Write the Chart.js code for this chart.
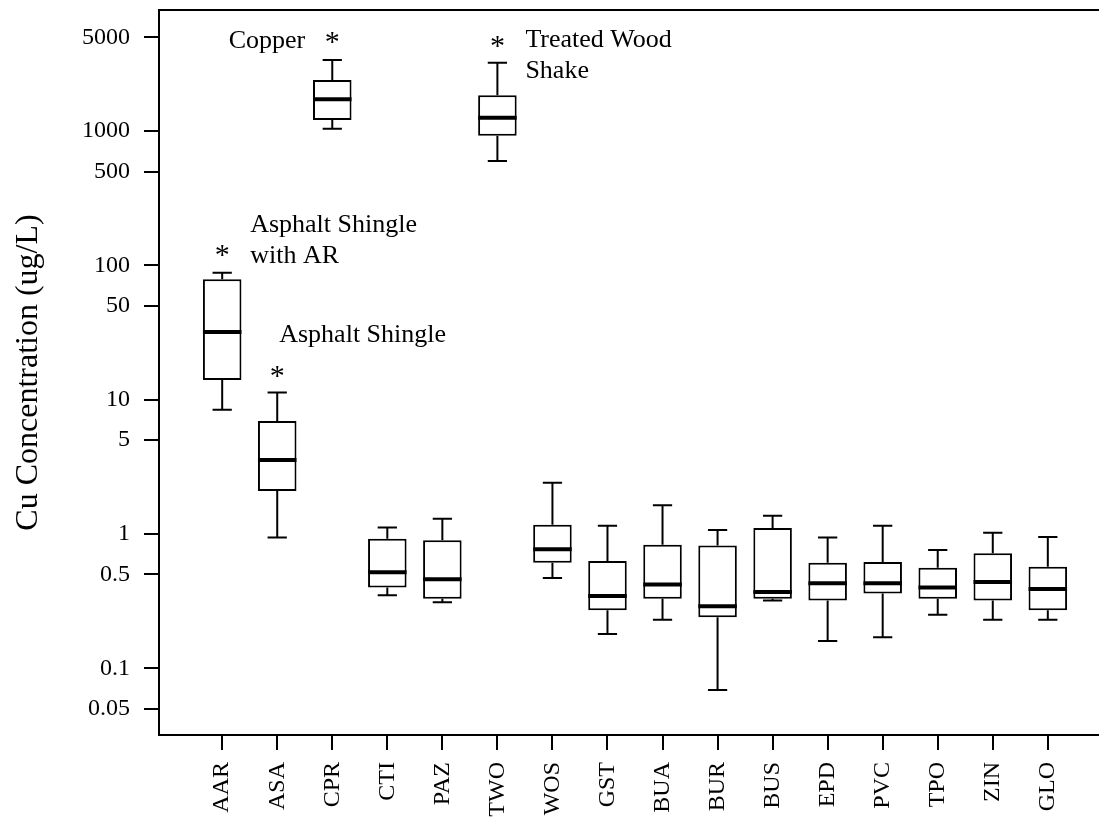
<!DOCTYPE html>
<html>
<head>
<meta charset="utf-8">
<script src="https://cdn.jsdelivr.net/npm/chart.js@4"></script>
<style>
  html, body { margin: 0; padding: 0; background: #fff; overflow: hidden; }
  canvas { display: block; }
</style>
</head>
<body>
<canvas id="cuChart" width="1121" height="819"></canvas>
<script>
// Roof material codes
const categories = ['AAR', 'ASA', 'CPR', 'CTI', 'PAZ', 'TWO', 'WOS', 'GST',
                    'BUA', 'BUR', 'BUS', 'EPD', 'PVC', 'TPO', 'ZIN', 'GLO'];

// Box plot statistics, Cu in ug/L
const whiskerLow  = [8.4, 0.94, 1040, 0.35, 0.31, 600, 0.47, 0.18, 0.23, 0.069, 0.32, 0.16, 0.17, 0.25, 0.23, 0.23];
const quartile1   = [14.0, 2.09, 1210, 0.40, 0.33, 924, 0.61, 0.27, 0.33, 0.24, 0.33, 0.32, 0.36, 0.33, 0.32, 0.27];
const medians     = [31.9, 3.56, 1725, 0.52, 0.46, 1258, 0.77, 0.345, 0.42, 0.29, 0.37, 0.43, 0.43, 0.40, 0.44, 0.39];
const quartile3   = [79, 6.94, 2400, 0.92, 0.90, 1848, 1.17, 0.63, 0.83, 0.82, 1.11, 0.61, 0.62, 0.56, 0.72, 0.57];
const whiskerHigh = [88, 11.3, 3380, 1.12, 1.30, 3230, 2.41, 1.15, 1.64, 1.07, 1.37, 0.94, 1.15, 0.76, 1.02, 0.95];

// Outliers marked with an asterisk
const outlierCats   = ['AAR', 'ASA', 'CPR', 'TWO'];
const outlierValues = [130, 16.2, 5000, 4630];

// y axis tick values
const yTicks = [0.05, 0.1, 0.5, 1, 5, 10, 50, 100, 500, 1000, 5000];

// Notes next to the outlier marks
const noteCats  = ['AAR', 'ASA', 'CPR', 'TWO'];
const noteLines = [['Asphalt Shingle', 'with AR'], ['Asphalt Shingle'], ['Copper'], ['Treated Wood', 'Shake']];

const serif = '"Liberation Serif", "Times New Roman", serif';

// keep the plot frame where the scales put it, no extra label padding
function noScalePadding(scale) {
  scale.paddingTop = 0;
  scale.paddingBottom = 0;
  scale.paddingLeft = 0;
  scale.paddingRight = 0;
}

// whiskers behind the boxes, medians, asterisks and notes on top
const boxPlotExtras = {
  id: 'boxPlotExtras',
  beforeDatasetsDraw(chart) {
    const ctx = chart.ctx;
    const y = chart.scales.y;
    const bars = chart.getDatasetMeta(0).data;
    ctx.save();
    ctx.strokeStyle = '#000';
    ctx.lineWidth = 2;
    bars.forEach((bar, i) => {
      const cap = bar.width / 4;
      const yHi = y.getPixelForValue(whiskerHigh[i]);
      const yQ3 = y.getPixelForValue(quartile3[i]);
      const yLo = y.getPixelForValue(whiskerLow[i]);
      const yQ1 = y.getPixelForValue(quartile1[i]);
      ctx.beginPath();
      ctx.moveTo(bar.x, yQ3); ctx.lineTo(bar.x, yHi);
      ctx.moveTo(bar.x - cap, yHi); ctx.lineTo(bar.x + cap, yHi);
      ctx.moveTo(bar.x, yQ1); ctx.lineTo(bar.x, yLo);
      ctx.moveTo(bar.x - cap, yLo); ctx.lineTo(bar.x + cap, yLo);
      ctx.stroke();
    });
    ctx.restore();
  },
  afterDatasetsDraw(chart) {
    const ctx = chart.ctx;
    const x = chart.scales.x;
    const y = chart.scales.y;
    const bars = chart.getDatasetMeta(0).data;
    ctx.save();
    ctx.strokeStyle = '#000';
    ctx.lineWidth = 4;
    bars.forEach((bar, i) => {
      const ym = y.getPixelForValue(medians[i]);
      ctx.beginPath();
      ctx.moveTo(bar.x - bar.width / 2, ym);
      ctx.lineTo(bar.x + bar.width / 2, ym);
      ctx.stroke();
    });

    // asterisks, centred on the value
    ctx.fillStyle = '#000';
    ctx.font = '30px ' + serif;
    ctx.textAlign = 'center';
    ctx.textBaseline = 'alphabetic';
    const m = ctx.measureText('*');
    const mid = (m.actualBoundingBoxAscent - m.actualBoundingBoxDescent) / 2;
    const starPos = {};
    outlierCats.forEach((c, i) => {
      const px = x.getPixelForValue(categories.indexOf(c) + 1);
      const py = y.getPixelForValue(outlierValues[i]);
      starPos[c] = {px, py};
      ctx.fillText('*', px, py + mid);
    });

    // notes placed off the asterisk they belong to
    const offsets = {
      AAR: {dx: 28, dy: -18, align: 'left'},
      ASA: {dx: 2, dy: -30, align: 'left'},
      CPR: {dx: -27, dy: 11, align: 'right'},
      TWO: {dx: 28, dy: 5, align: 'left'}
    };
    ctx.font = '26px ' + serif;
    noteCats.forEach((c, i) => {
      const o = offsets[c];
      const s = starPos[c];
      ctx.textAlign = o.align;
      noteLines[i].forEach((line, k) => {
        ctx.fillText(line, s.px + o.dx, s.py + o.dy + k * 31);
      });
    });
    ctx.restore();
  },
  afterDraw(chart) {
    // top edge of the plot frame
    const {ctx, chartArea} = chart;
    ctx.save();
    ctx.strokeStyle = '#000';
    ctx.lineWidth = 2;
    ctx.beginPath();
    ctx.moveTo(chartArea.left - 1, chartArea.top);
    ctx.lineTo(chart.width, chartArea.top);
    ctx.stroke();
    ctx.restore();
  }
};

const boxData = categories.map((c, i) => ({x: i + 1, y: [quartile1[i], quartile3[i]]}));

new Chart(document.getElementById('cuChart'), {
  type: 'bar',
  data: {
    datasets: [{
      data: boxData,
      backgroundColor: '#fff',
      borderColor: '#000',
      borderWidth: 2,
      borderSkipped: false,
      barPercentage: 0.7,
      categoryPercentage: 1
    }]
  },
  options: {
    responsive: false,
    animation: false,
    layout: { padding: { top: 10, left: 0, right: 10, bottom: 0 } },
    plugins: {
      legend: { display: false },
      tooltip: { enabled: false }
    },
    scales: {
      x: {
        type: 'linear',
        offset: false,
        min: -0.148,
        max: 17.148,
        afterBuildTicks: scale => {
          scale.ticks = categories.map((c, i) => ({value: i + 1}));
        },
        afterFit: scale => {
          scale.height = 84;
          noScalePadding(scale);
        },
        ticks: {
          color: '#000',
          font: { family: serif, size: 24 },
          minRotation: 90,
          maxRotation: 90,
          padding: 12,
          callback: v => categories[v - 1]
        },
        grid: { offset: false, drawOnChartArea: false, color: '#000', lineWidth: 2, tickLength: 15 },
        border: { display: true, color: '#000', width: 2 }
      },
      y: {
        type: 'logarithmic',
        min: 0.03187,
        max: 7975,
        afterBuildTicks: scale => {
          scale.ticks = yTicks.map(v => ({value: v}));
        },
        afterFit: scale => {
          scale.width = 159;
          noScalePadding(scale);
        },
        ticks: {
          color: '#000',
          font: { family: serif, size: 24 },
          padding: 14,
          callback: v => String(v)
        },
        grid: { drawOnChartArea: false, color: '#000', lineWidth: 2, tickLength: 15 },
        border: { display: true, color: '#000', width: 2 },
        title: {
          display: true,
          text: 'Cu Concentration (ug/L)',
          color: '#000',
          font: { family: serif, size: 32 },
          padding: { top: 9 }
        }
      }
    }
  },
  plugins: [boxPlotExtras]
});
</script>
</body>
</html>
